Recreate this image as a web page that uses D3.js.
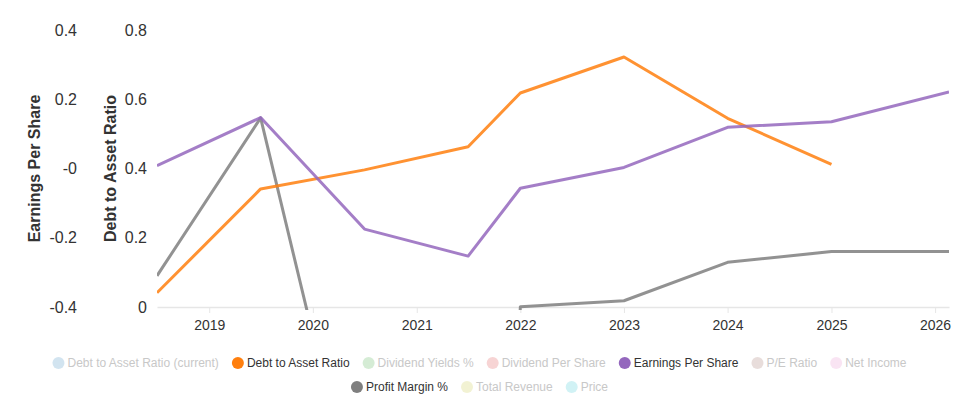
<!DOCTYPE html>
<html>
<head>
<meta charset="utf-8">
<script src="https://cdn.jsdelivr.net/npm/d3@7/dist/d3.min.js"></script>
<style>
  html, body { margin: 0; padding: 0; background: #fff; }
  svg { display: block; font-family: "Liberation Sans", Arial, sans-serif; }
</style>
</head>
<body>
<svg id="chart" width="959" height="400"></svg>
<script>
// ---- Data ----
const dates = ["2018-07-01", "2019-07-01", "2020-07-01", "2021-07-01", "2022-01-01", "2023-01-01", "2024-01-01", "2025-01-01", "2026-02-19"];
const debtToAsset = [0.041, 0.341, 0.396, 0.463, 0.618, 0.722, 0.545, 0.412, null];
const earningsPerShare = [0.008, 0.147, -0.175, -0.253, -0.057, 0.003, 0.119, 0.135, 0.221];
const profitMargin = [-31.0, 14.6, -110, -400, -39.9, -38.2, -27.1, -24.0, -24.0];

const xTickYears = [2019, 2020, 2021, 2022, 2023, 2024, 2025, 2026];
const epsTicks = [-0.4, -0.2, 0, 0.2, 0.4];
const epsTickLabels = ["-0.4", "-0.2", "-0", "0.2", "0.4"];
const debtTicks = [0, 0.2, 0.4, 0.6, 0.8];
const debtTickLabels = ["0", "0.2", "0.4", "0.6", "0.8"];

const legendNames = ["Debt to Asset Ratio (current)", "Debt to Asset Ratio", "Dividend Yields %", "Dividend Per Share", "Earnings Per Share", "P/E Ratio", "Net Income", "Profit Margin %", "Total Revenue", "Price"];
const legendColors = ["#1f77b4", "#ff7f0e", "#2ca02c", "#d62728", "#9467bd", "#8c564b", "#e377c2", "#7f7f7f", "#bcbd22", "#17becf"];
const legendActive = [false, true, false, false, true, false, false, true, false, false];

// ---- Layout ----
const plot = { left: 157, right: 949, top: 30, bottom: 307 };
const parse = d3.timeParse("%Y-%m-%d");
const xDates = dates.map(parse);

const svg = d3.select("#chart");

const x = d3.scaleTime()
  .domain([xDates[0], xDates[xDates.length - 1]])
  .range([plot.left, plot.right]);
const yEps = d3.scaleLinear().domain([-0.4, 0.4]).range([plot.bottom, plot.top]);
const yDebt = d3.scaleLinear().domain([0, 0.8]).range([plot.bottom, plot.top]);
const yPm = d3.scaleLinear().domain([-40, 40]).range([plot.bottom, plot.top]); // hidden axis

// clip
svg.append("defs").append("clipPath").attr("id", "plotclip")
  .append("rect")
  .attr("x", plot.left).attr("y", 0)
  .attr("width", plot.right - plot.left).attr("height", plot.bottom + 3);

// x axis
const xAxis = d3.axisBottom(x)
  .tickValues(xTickYears.map(y => new Date(y, 0, 1)))
  .tickFormat(d3.timeFormat("%Y"))
  .tickSize(6)
  .tickSizeOuter(0);
const gx = svg.append("g").attr("transform", `translate(0,${plot.bottom})`).call(xAxis);
gx.select(".domain").attr("stroke", "#e6e6e6").attr("stroke-width", 1.5);
gx.selectAll(".tick line").attr("stroke", "#e6e6e6");
gx.selectAll(".tick text").attr("fill", "#333").attr("font-size", "14px").attr("dy", "1em")
  .attr("font-family", "Liberation Sans, Arial, sans-serif");

// EPS axis (outer left)
const epsAxis = d3.axisLeft(yEps).tickValues(epsTicks)
  .tickFormat((d, i) => epsTickLabels[i]).tickSize(0).tickPadding(0);
const gEps = svg.append("g").attr("transform", "translate(77,0)").call(epsAxis);
gEps.select(".domain").remove();
gEps.selectAll(".tick text").attr("fill", "#333").attr("font-size", "16px")
  .attr("font-family", "Liberation Sans, Arial, sans-serif");

// Debt axis (inner left)
const debtAxis = d3.axisLeft(yDebt).tickValues(debtTicks)
  .tickFormat((d, i) => debtTickLabels[i]).tickSize(0).tickPadding(0);
const gDebt = svg.append("g").attr("transform", "translate(147,0)").call(debtAxis);
gDebt.select(".domain").remove();
gDebt.selectAll(".tick text").attr("fill", "#333").attr("font-size", "16px")
  .attr("font-family", "Liberation Sans, Arial, sans-serif");

// axis titles
const midY = (plot.top + plot.bottom) / 2;
svg.append("text").attr("transform", `translate(40,${midY}) rotate(-90)`)
  .attr("text-anchor", "middle").attr("font-size", "16px").attr("font-weight", "bold")
  .attr("fill", "#333").text("Earnings Per Share");
svg.append("text").attr("transform", `translate(116,${midY}) rotate(-90)`)
  .attr("text-anchor", "middle").attr("font-size", "16px").attr("font-weight", "bold")
  .attr("fill", "#333").text("Debt to Asset Ratio");

// lines
const gLines = svg.append("g").attr("clip-path", "url(#plotclip)");
function drawLine(values, yScale, color) {
  const line = d3.line()
    .defined(d => d.v !== null)
    .x(d => x(d.t)).y(d => yScale(d.v));
  const data = values.map((v, i) => ({ t: xDates[i], v }));
  gLines.append("path").datum(data)
    .attr("d", line)
    .attr("fill", "none")
    .attr("stroke", color)
    .attr("stroke-opacity", 0.85)
    .attr("stroke-width", 3)
    .attr("stroke-linejoin", "round");
}
drawLine(profitMargin, yPm, legendColors[7]);
drawLine(debtToAsset, yDebt, legendColors[1]);
drawLine(earningsPerShare, yEps, legendColors[4]);

// legend
const legendG = svg.append("g");
const items = legendNames.map((name, i) => {
  const g = legendG.append("g");
  g.append("circle").attr("r", 6).attr("cx", 6).attr("cy", 0)
    .attr("fill", legendColors[i]).attr("fill-opacity", legendActive[i] ? 1 : 0.2);
  const t = g.append("text").attr("x", 15).attr("y", 0).attr("dy", "0.35em")
    .attr("font-size", "12px").attr("fill", legendActive[i] ? "#333" : "#c8c8c8")
    .text(name);
  const w = 15 + t.node().getComputedTextLength();
  return { g, w };
});
const maxRow = 900, gap = 13, rowY = [363, 387];
const rows = [];
let cur = [], curW = 0;
items.forEach(it => {
  const add = (cur.length ? gap : 0) + it.w;
  if (cur.length && curW + add > maxRow) { rows.push({ items: cur, w: curW }); cur = []; curW = 0; }
  curW += (cur.length ? gap : 0) + it.w;
  cur.push(it);
});
if (cur.length) rows.push({ items: cur, w: curW });
rows.forEach((r, ri) => {
  let cx = 479.5 - r.w / 2;
  r.items.forEach(it => {
    it.g.attr("transform", `translate(${cx},${rowY[ri]})`);
    cx += it.w + gap;
  });
});
</script>
</body>
</html>
